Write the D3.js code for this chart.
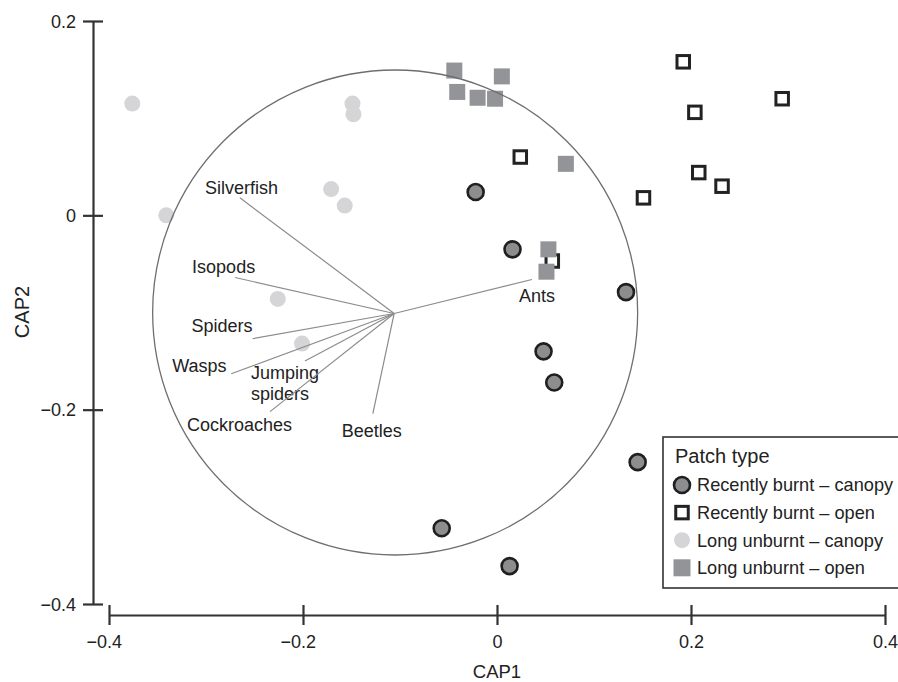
<!DOCTYPE html>
<html>
<head>
<meta charset="utf-8">
<script src="https://cdn.jsdelivr.net/npm/d3@7"></script>
<style>
  html, body { margin: 0; padding: 0; background: #fff; }
  svg { display: block; font-family: "Liberation Sans", Arial, Helvetica, sans-serif; }
</style>
</head>
<body>
<svg id="chart" width="898" height="682"></svg>
<script>
// ---------------- DATA ----------------
const categories = ["Recently burnt – canopy", "Recently burnt – open", "Long unburnt – canopy", "Long unburnt – open"];

// [CAP1, CAP2] scores per patch type
const recentlyBurntCanopy = [
  [-0.022, 0.024], [0.016, -0.035], [0.133, -0.079], [0.048, -0.140],
  [0.059, -0.172], [0.145, -0.254], [-0.057, -0.322], [0.013, -0.361]
];
const recentlyBurntOpen = [
  [0.192, 0.158], [0.204, 0.106], [0.294, 0.120], [0.208, 0.044],
  [0.232, 0.030], [0.151, 0.018], [0.024, 0.060], [0.057, -0.047]
];
const longUnburntCanopy = [
  [-0.376, 0.115], [-0.341, 0.000], [-0.149, 0.115], [-0.148, 0.104],
  [-0.171, 0.027], [-0.157, 0.010], [-0.226, -0.086], [-0.201, -0.132]
];
const longUnburntOpen = [
  [-0.044, 0.149], [-0.041, 0.127], [0.005, 0.143], [-0.020, 0.121],
  [-0.002, 0.120], [0.071, 0.053], [0.053, -0.035], [0.051, -0.058]
];

// correlation vectors (taxa)
const vectorNames = ["Silverfish", "Isopods", "Spiders", "Wasps", "Jumping spiders", "Cockroaches", "Beetles", "Ants"];
const vectorX = [-0.265, -0.270, -0.252, -0.274, -0.198, -0.234, -0.128, 0.036];
const vectorY = [0.018, -0.064, -0.127, -0.163, -0.150, -0.202, -0.204, -0.066];
const vectorOrigin = [-0.106, -0.101];

// correlation circle
const circleCenter = [-0.105, -0.100];
const circleRadius = 0.25;

// axes
const xTicks = [-0.4, -0.2, 0, 0.2, 0.4];
const yTicks = [-0.4, -0.2, 0, 0.2];
const xTickLabels = ["−0.4", "−0.2", "0", "0.2", "0.4"];
const yTickLabels = ["−0.4", "−0.2", "0", "0.2"];
const xTitle = "CAP1";
const yTitle = "CAP2";
const legendTitle = "Patch type";

// ---------------- LAYOUT / STYLE ----------------
const svg = d3.select("#chart");
const x = d3.scaleLinear().domain([-0.4, 0.4]).range([109, 885]);
const y = d3.scaleLinear().domain([-0.4, 0.2]).range([604, 21]);
const pxPerUnit = x(1) - x(0);

const axisColor = "#333";
const textColor = "#222";

const styles = {
  "Recently burnt – canopy": { shape: "circle", r: 8, fill: "#8d8d8f", stroke: "#1f1f1f", sw: 2.6 },
  "Recently burnt – open":   { shape: "square", s: 12.5, fill: "#ffffff", stroke: "#222", sw: 3 },
  "Long unburnt – canopy":   { shape: "circle", r: 8, fill: "#d5d5d7", stroke: "none", sw: 0 },
  "Long unburnt – open":     { shape: "square", s: 16, fill: "#939497", stroke: "none", sw: 0 }
};
const seriesData = {
  "Recently burnt – canopy": recentlyBurntCanopy,
  "Recently burnt – open": recentlyBurntOpen,
  "Long unburnt – canopy": longUnburntCanopy,
  "Long unburnt – open": longUnburntOpen
};
// label offsets (px) from vector tips
const labelOffsets = {
  "Silverfish": [-35, -4],
  "Isopods": [-43, -5],
  "Spiders": [-61, -7],
  "Wasps": [-59, -2],
  "Jumping spiders": [-54, 18],
  "Cockroaches": [-83, 19],
  "Beetles": [-31, 23],
  "Ants": [-13, 23]
};

function drawSymbol(g, st, cx, cy) {
  if (st.shape === "circle") {
    g.append("circle").attr("cx", cx).attr("cy", cy).attr("r", st.r)
      .attr("fill", st.fill).attr("stroke", st.stroke).attr("stroke-width", st.sw);
  } else {
    g.append("rect").attr("x", cx - st.s / 2).attr("y", cy - st.s / 2)
      .attr("width", st.s).attr("height", st.s)
      .attr("fill", st.fill).attr("stroke", st.stroke).attr("stroke-width", st.sw);
  }
}

// ---------------- AXES ----------------
const yAxisG = svg.append("g").attr("transform", "translate(93,0)")
  .call(d3.axisLeft(y).tickValues(yTicks).tickSize(10).tickSizeOuter(0)
    .tickFormat((d, i) => yTickLabels[i]));
yAxisG.select(".domain").attr("stroke", axisColor).attr("stroke-width", 2.2);
yAxisG.selectAll(".tick line").attr("x1", 10).attr("x2", -10).attr("stroke", axisColor).attr("stroke-width", 2.2);
yAxisG.selectAll(".tick text").attr("x", -17).attr("dy", "0.35em")
  .attr("font-size", 18).attr("fill", textColor).attr("font-family", null);

const xAxisG = svg.append("g").attr("transform", "translate(0,615)")
  .call(d3.axisBottom(x).tickValues(xTicks).tickSize(10).tickSizeOuter(0)
    .tickFormat((d, i) => xTickLabels[i]));
xAxisG.select(".domain").attr("stroke", axisColor).attr("stroke-width", 2.2);
xAxisG.selectAll(".tick line").attr("y1", -10).attr("y2", 10).attr("stroke", axisColor).attr("stroke-width", 2.2);
xAxisG.selectAll(".tick text").attr("y", 33).attr("dy", 0)
  .attr("font-size", 18).attr("fill", textColor).attr("font-family", null)
  .attr("dx", d => d < 0 ? -5.3 : 0);

svg.append("text").attr("x", 497).attr("y", 678).attr("text-anchor", "middle")
  .attr("font-size", 18.5).attr("fill", textColor).text(xTitle);
svg.append("text").attr("transform", "translate(29,312) rotate(-90)").attr("text-anchor", "middle")
  .attr("font-size", 20).attr("fill", textColor).text(yTitle);

// ---------------- POINTS ----------------
const drawOrder = ["Long unburnt – canopy", "Recently burnt – open", "Long unburnt – open", "Recently burnt – canopy"];
const pts = svg.append("g");
drawOrder.forEach(cat => {
  const st = styles[cat];
  seriesData[cat].forEach(d => drawSymbol(pts, st, x(d[0]), y(d[1])));
});

// ---------------- CIRCLE & VECTORS ----------------
svg.append("circle")
  .attr("cx", x(circleCenter[0])).attr("cy", y(circleCenter[1]))
  .attr("r", circleRadius * pxPerUnit)
  .attr("fill", "none").attr("stroke", "#6e6e6e").attr("stroke-width", 1.3);

const vg = svg.append("g");
vectorNames.forEach((name, i) => {
  vg.append("line")
    .attr("x1", x(vectorOrigin[0])).attr("y1", y(vectorOrigin[1]))
    .attr("x2", x(vectorX[i])).attr("y2", y(vectorY[i]))
    .attr("stroke", "#8c8c8c").attr("stroke-width", 1.2);
  const off = labelOffsets[name];
  const t = vg.append("text")
    .attr("x", x(vectorX[i]) + off[0]).attr("y", y(vectorY[i]) + off[1])
    .attr("font-size", 18).attr("fill", textColor);
  const parts = name === "Jumping spiders" ? ["Jumping", "spiders"] : [name];
  parts.forEach((p, k) => {
    t.append("tspan").attr("x", x(vectorX[i]) + off[0]).attr("dy", k === 0 ? 0 : 20.5).text(p);
  });
});

// ---------------- LEGEND ----------------
const lg = svg.append("g");
lg.append("rect").attr("x", 663).attr("y", 437).attr("width", 245).attr("height", 151)
  .attr("fill", "#fff").attr("stroke", "#333").attr("stroke-width", 1.6);
lg.append("text").attr("x", 675).attr("y", 463).attr("font-size", 20).attr("fill", textColor).text(legendTitle);
categories.forEach((cat, i) => {
  const cy = 485 + i * 27.6;
  const st = Object.assign({}, styles[cat]);
  if (cat === "Long unburnt – open") st.s = 17;
  drawSymbol(lg, st, 682, cy);
  lg.append("text").attr("x", 697).attr("y", cy).attr("dy", "0.35em")
    .attr("font-size", 18.2).attr("fill", textColor).text(cat);
});
</script>
</body>
</html>
